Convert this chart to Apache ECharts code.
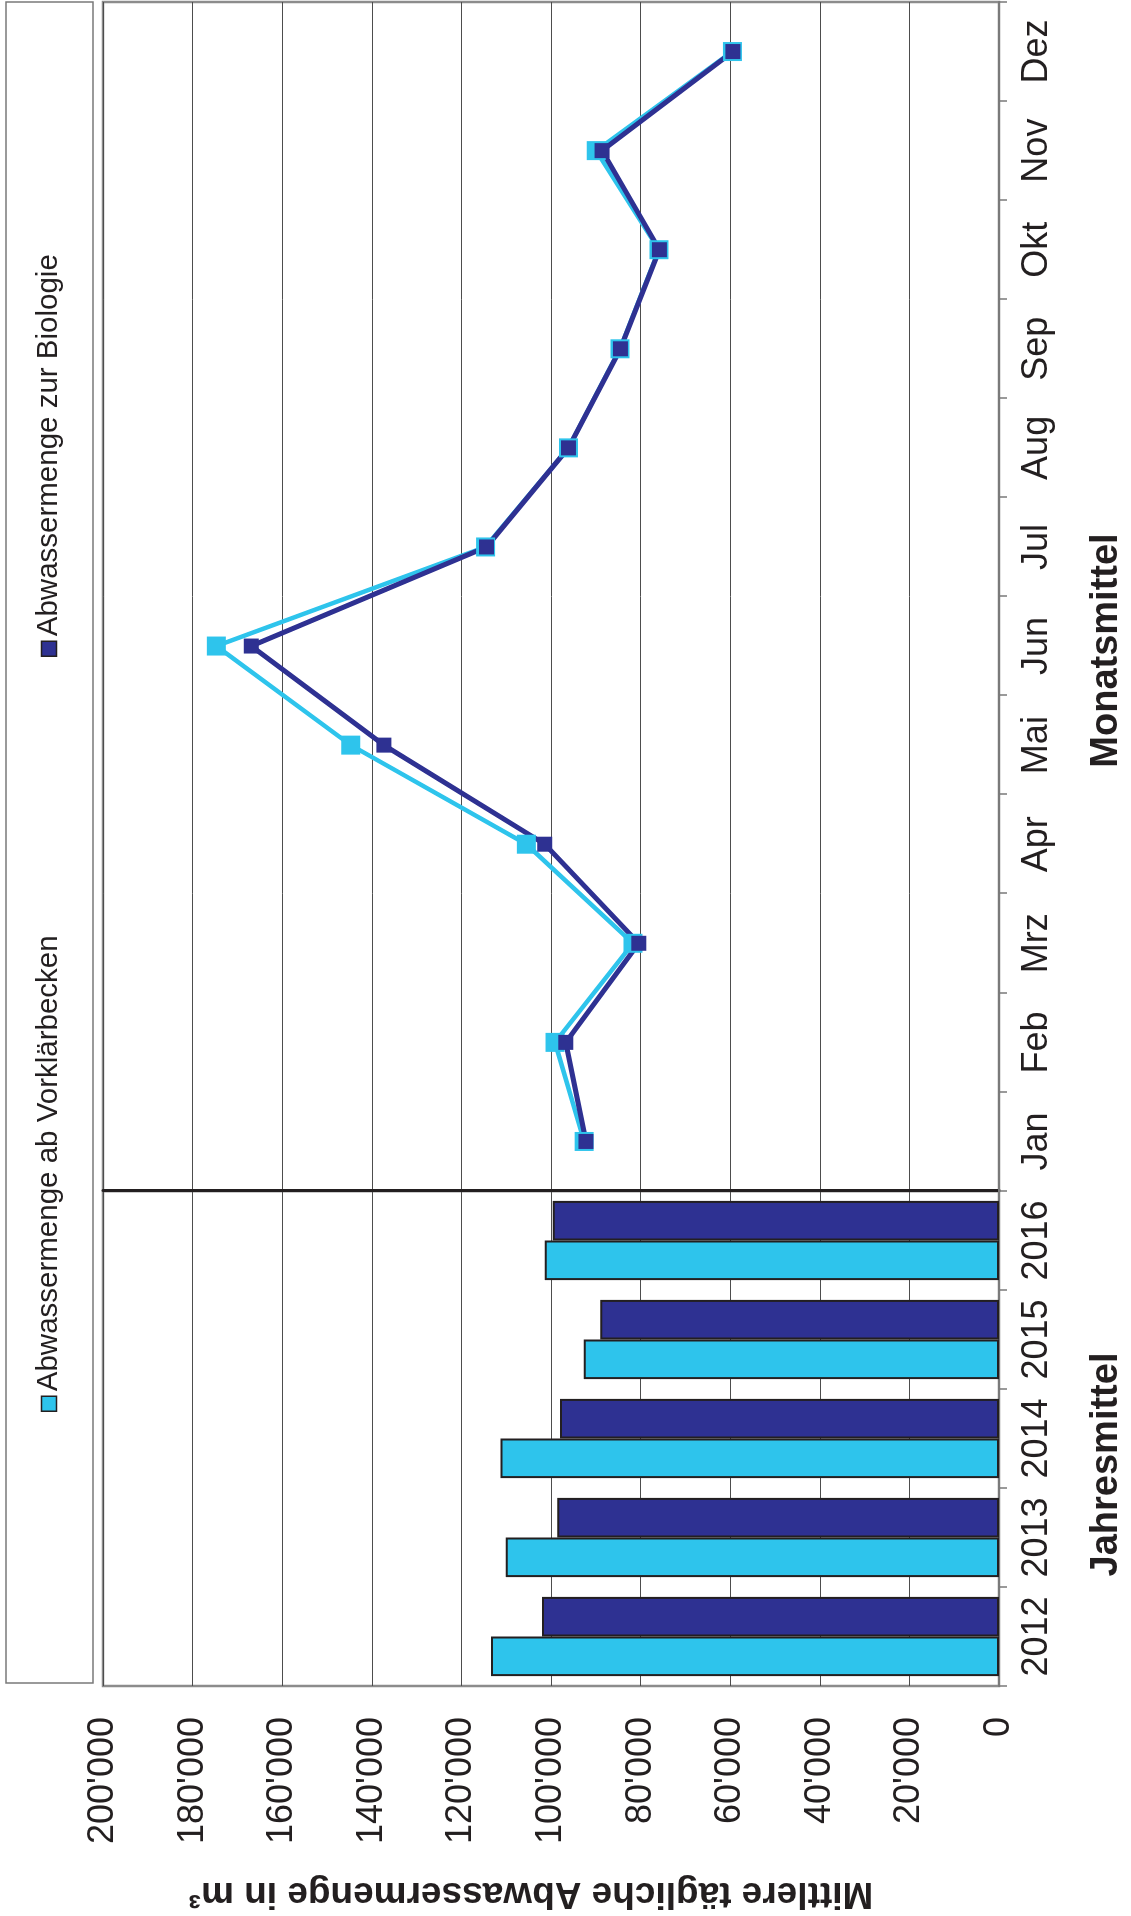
<!DOCTYPE html>
<html><head><meta charset="utf-8">
<script src="https://cdn.jsdelivr.net/npm/echarts@6/dist/echarts.min.js"></script>
<style>
html,body{margin:0;padding:0;background:#fff;overflow:hidden;width:1131px;height:1916px;}
#chart{position:absolute;left:0;top:0;width:1916px;height:1131px;transform-origin:0 0;transform:translate(0,1916px) rotate(-90deg);}
</style></head><body><div id="chart"></div>
<script>
// ---- data ----
const years = ['2012', '2013', '2014', '2015', '2016'];
const months = ['Jan', 'Feb', 'Mrz', 'Apr', 'Mai', 'Jun', 'Jul', 'Aug', 'Sep', 'Okt', 'Nov', 'Dez'];
const seriesNames = ['Abwassermenge ab Vorklärbecken', 'Abwassermenge zur Biologie'];
const yearVorklaer = [113400, 110100, 111300, 92700, 101400];
const yearBiologie = [102000, 98600, 98000, 89000, 99600];
const monthVorklaer = [92600, 99100, 81700, 105500, 144700, 174700, 114600, 96100, 84600, 75900, 89900, 59500];
const monthBiologie = [92200, 96700, 80400, 101400, 137300, 166900, 114400, 96100, 84500, 75800, 88600, 59400];
const valueMin = 0, valueMax = 200000, valueStep = 20000;
const valueTitle = 'Mittlere tägliche Abwassermenge in m³';
const groupTitles = ['Jahresmittel', 'Monatsmittel'];

// ---- style ----
const FONT = "'Liberation Sans', Arial, Helvetica, sans-serif";
const NARROW = "'Liberation Sans Narrow', 'Arial Narrow', 'Liberation Sans', sans-serif";
const TXT = '#231f20';
const LIGHT = '#2ec4ec', DARK = '#2e3192';
function fmt(v) { return String(v).replace(/\B(?=(\d{3})+(?!\d))/g, "'"); }

const chart = echarts.init(document.getElementById('chart'), null, {width: 1916, height: 1131, devicePixelRatio: 1});

const gridTop = 103, gridBottomY = 1000;
const splitLine = {show: true, lineStyle: {color: '#4d4d4d', width: 1}};
function catAxis(idx, data, title, padRight) {
  return {
    type: 'category', gridIndex: idx, data: data, boundaryGap: true,
    axisLine: {show: true, lineStyle: {color: '#7a7a7a', width: 2}},
    axisTick: {show: true, length: 8, interval: 0, lineStyle: {color: '#7a7a7a', width: 1.5}},
    axisLabel: {fontFamily: NARROW, fontSize: 36, color: TXT, margin: 20, interval: 0},
    name: title, nameLocation: 'middle', nameGap: 89,
    nameTextStyle: {fontFamily: FONT, fontSize: 38, fontWeight: 'bold', color: TXT, padding: [0, padRight, 0, 0]}
  };
}
const legendText = {fontFamily: FONT, fontSize: 29.5, color: TXT, lineHeight: 30, padding: [0, 0, 0, 0]};
const option = {
  animation: false,
  textStyle: {fontFamily: FONT},
  graphic: [{type: 'rect', shape: {x: 233, y: 6, width: 1681, height: 87}, style: {fill: 'none', stroke: '#7a7a7a', lineWidth: 1.5}, silent: true}],
  legend: [
    {data: [{name: seriesNames[0], icon: 'rect', itemStyle: {color: LIGHT, borderColor: TXT, borderWidth: 1.5}}],
     left: 504, top: 34, padding: 0, itemWidth: 15, itemHeight: 15, itemGap: 0, selectedMode: false, textStyle: legendText},
    {data: [{name: seriesNames[1], icon: 'rect', itemStyle: {color: DARK, borderColor: TXT, borderWidth: 1.5}}],
     left: 1259, top: 34, padding: 0, itemWidth: 15, itemHeight: 15, itemGap: 0, selectedMode: false, textStyle: legendText}
  ],
  grid: [
    {left: 230, top: gridTop, width: 495, height: gridBottomY - gridTop, show: true, borderColor: '#8c8c8c', borderWidth: 2.5, backgroundColor: 'transparent'},
    {left: 725, top: gridTop, width: 1189, height: gridBottomY - gridTop, show: true, borderColor: '#8c8c8c', borderWidth: 2.5, backgroundColor: 'transparent'}
  ],
  xAxis: [catAxis(0, years, groupTitles[0], 52), catAxis(1, months, groupTitles[1], 108)],
  yAxis: [
    {type: 'value', gridIndex: 0, min: valueMin, max: valueMax, interval: valueStep,
     splitLine: splitLine, axisTick: {show: false}, axisLine: {show: false},
     axisLabel: {fontFamily: NARROW, fontSize: 36, color: TXT, margin: 31, formatter: fmt},
     name: valueTitle, nameLocation: 'middle', nameRotate: 90, nameGap: 189,
     nameTextStyle: {fontFamily: FONT, fontSize: 37, fontWeight: 'bold', color: TXT, padding: [0, 0, 0, 40]}},
    {type: 'value', gridIndex: 1, min: valueMin, max: valueMax, interval: valueStep,
     splitLine: splitLine, axisTick: {show: false}, axisLabel: {show: false},
     axisLine: {show: true, lineStyle: {color: TXT, width: 3}}}
  ],
  series: [
    {type: 'bar', name: seriesNames[0], xAxisIndex: 0, yAxisIndex: 0, data: yearVorklaer,
     barGap: '0%', barCategoryGap: '20%', itemStyle: {color: LIGHT, borderColor: TXT, borderWidth: 2}},
    {type: 'bar', name: seriesNames[1], xAxisIndex: 0, yAxisIndex: 0, data: yearBiologie,
     barGap: '0%', barCategoryGap: '20%', itemStyle: {color: DARK, borderColor: TXT, borderWidth: 2}},
    {type: 'line', name: seriesNames[0], xAxisIndex: 1, yAxisIndex: 1, data: monthVorklaer,
     symbol: 'rect', symbolSize: 19, showSymbol: true,
     lineStyle: {color: LIGHT, width: 4.5}, itemStyle: {color: LIGHT, borderWidth: 0}},
    {type: 'line', name: seriesNames[1], xAxisIndex: 1, yAxisIndex: 1, data: monthBiologie,
     symbol: 'rect', symbolSize: 15, showSymbol: true,
     lineStyle: {color: DARK, width: 5}, itemStyle: {color: DARK, borderWidth: 0}}
  ]
};
chart.setOption(option);
</script></body></html>
